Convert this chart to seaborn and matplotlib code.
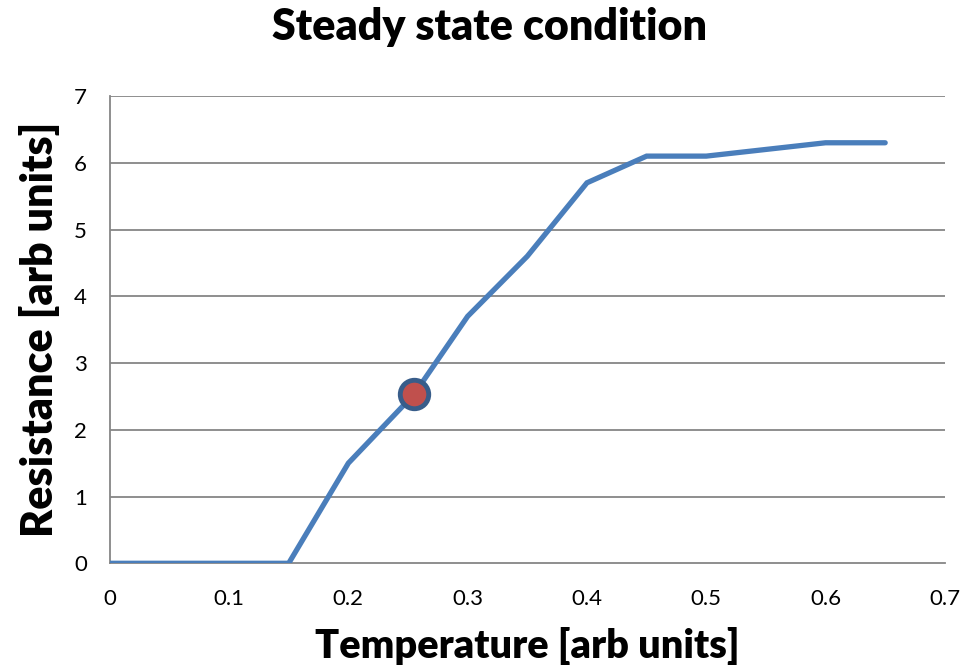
import matplotlib
matplotlib.use("Agg")
import matplotlib.pyplot as plt
import seaborn as sns
import pandas as pd

temperature = [0.0, 0.05, 0.1, 0.15, 0.2, 0.255, 0.3, 0.35, 0.4, 0.45, 0.5, 0.6, 0.65]
resistance = [0.0, 0.0, 0.0, 0.0, 1.5, 2.53, 3.7, 4.6, 5.7, 6.1, 6.1, 6.3, 6.3]
highlight_x = [0.255]
highlight_y = [2.53]
x_ticks = [0, 0.1, 0.2, 0.3, 0.4, 0.5, 0.6, 0.7]
x_tick_labels = ["0", "0.1", "0.2", "0.3", "0.4", "0.5", "0.6", "0.7"]
y_ticks = [0, 1, 2, 3, 4, 5, 6, 7]

sns.set_theme(style="white")
plt.rcParams['font.family'] = ['Lato', 'DejaVu Sans']
plt.rcParams['text.color'] = 'black'

df = pd.DataFrame({"Temperature": temperature, "Resistance": resistance})
hl = pd.DataFrame({"x": highlight_x, "y": highlight_y})

fig = plt.figure(figsize=(9.79, 6.67), dpi=100)
ax = fig.add_axes([0.1121, 0.1555, 0.853, 0.7005])

grid_c = "#868686"
for yv in y_ticks[1:]:
    ax.axhline(yv, color=grid_c, lw=1.3, zorder=0)

sns.lineplot(data=df, x="Temperature", y="Resistance", ax=ax, color="#4A7EBB",
             lw=3.8, solid_capstyle="round", solid_joinstyle="miter", zorder=3)
sns.scatterplot(data=hl, x="x", y="y", ax=ax, color="#C0504D", s=420,
                edgecolor="#385D8A", linewidth=3.5, zorder=4)

ax.set_xlim(0, 0.7)
ax.set_ylim(0, 7)
ax.set_xticks(x_ticks)
ax.set_xticklabels(x_tick_labels)
ax.set_yticks(y_ticks)

for s in ["top", "right"]:
    ax.spines[s].set_visible(False)
for s in ["left", "bottom"]:
    ax.spines[s].set_color(grid_c)
    ax.spines[s].set_linewidth(1.3)

ax.tick_params(axis="both", direction="out", length=6.5, width=1.3, color=grid_c,
               labelsize=16, labelcolor="black")
ax.tick_params(axis="y", pad=10)
ax.tick_params(axis="x", pad=12)

ax.set_xlabel("Temperature [arb units]", fontsize=28.5, fontweight="heavy", labelpad=13,
              color="black")
ax.set_ylabel("Resistance [arb units]", fontsize=31, fontweight="heavy", labelpad=10,
              color="black")
fig.suptitle("Steady state condition", fontsize=31, fontweight="heavy", y=0.99,
             color="black")

fig.savefig("out.png", dpi=100)
